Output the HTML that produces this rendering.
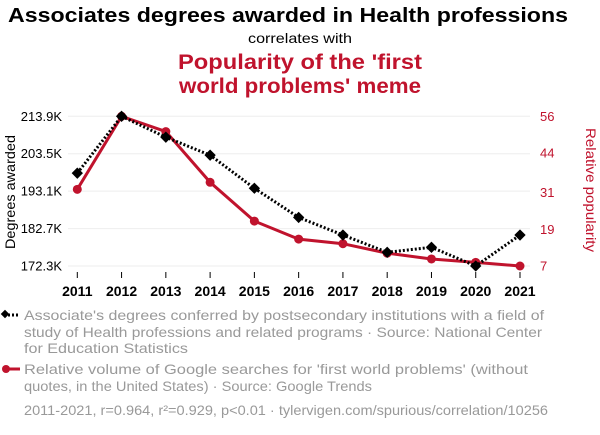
<!DOCTYPE html>
<html><head><meta charset="utf-8"><style>
body{margin:0;background:#fff;width:600px;height:430px;overflow:hidden;font-family:"Liberation Sans",sans-serif}
</style></head><body>
<svg id="c" width="600" height="430" xmlns="http://www.w3.org/2000/svg" font-family="Liberation Sans, sans-serif">
<text x="288" y="22" text-anchor="middle" font-size="20" font-weight="bold" fill="#000" textLength="560" lengthAdjust="spacingAndGlyphs">Associates degrees awarded in Health professions</text>
<text x="300" y="43" text-anchor="middle" font-size="14" fill="#000" textLength="104" lengthAdjust="spacingAndGlyphs">correlates with</text>
<text x="300" y="69" text-anchor="middle" font-size="21" font-weight="bold" fill="#c0132d" textLength="244" lengthAdjust="spacingAndGlyphs">Popularity of the 'first</text>
<text x="300" y="93" text-anchor="middle" font-size="21" font-weight="bold" fill="#c0132d" textLength="242" lengthAdjust="spacingAndGlyphs">world problems' meme</text>
<text transform="translate(15,192) rotate(-90)" text-anchor="middle" font-size="14" fill="#000" textLength="114" lengthAdjust="spacingAndGlyphs">Degrees awarded</text>
<text transform="translate(586,190) rotate(90)" text-anchor="middle" font-size="14" fill="#c0132d" textLength="124" lengthAdjust="spacingAndGlyphs">Relative popularity</text>
<g id="grid"></g><g id="axes"></g><g id="series"></g>
<g>
<line x1="4" y1="315" x2="20" y2="315" stroke="#000" stroke-width="3" stroke-dasharray="2,2"/>
<rect x="2" y="311" width="6" height="6" fill="#000" transform="rotate(45 5 314)"/>
<text x="24" y="320" font-size="14" fill="#999" textLength="520" lengthAdjust="spacingAndGlyphs">Associate's degrees conferred by postsecondary institutions with a field of</text>
<text x="24" y="337" font-size="14" fill="#999" textLength="518" lengthAdjust="spacingAndGlyphs">study of Health professions and related programs · Source: National Center</text>
<text x="24" y="353" font-size="14" fill="#999" textLength="164" lengthAdjust="spacingAndGlyphs">for Education Statistics</text>
</g>
<g>
<line x1="4" y1="369" x2="20" y2="369" stroke="#c0132d" stroke-width="3"/>
<circle cx="6" cy="369" r="4" fill="#c0132d"/>
<text x="24" y="374" font-size="14" fill="#999" textLength="504" lengthAdjust="spacingAndGlyphs">Relative volume of Google searches for 'first world problems' (without</text>
<text x="24" y="391" font-size="14" fill="#999" textLength="348" lengthAdjust="spacingAndGlyphs">quotes, in the United States) · Source: Google Trends</text>
</g>
<text x="24" y="415" font-size="14" fill="#999" textLength="524" lengthAdjust="spacingAndGlyphs">2011-2021, r=0.964, r²=0.929, p&lt;0.01 · tylervigen.com/spurious/correlation/10256</text>
</svg>
<script>
const years=[2011,2012,2013,2014,2015,2016,2017,2018,2019,2020,2021];
const degrees=[198.1,213.9,208.1,203.1,193.9,185.8,180.9,176.1,177.5,172.3,180.9];
const popularity=[32.1,56,51.0,34.4,21.7,15.8,14.3,11.2,9.3,8.2,7];
const leftTicks=[172.3,182.7,193.1,203.5,213.9];
const leftTickLabels=["172.3K","182.7K","193.1K","203.5K","213.9K"];
const rightTicks=[7,19,31,44,56];
const NS="http://www.w3.org/2000/svg";
const x=i=>77.3+(i-0)*(520-77.3)/(years.length-1);
const yL=v=>266-(v-172.3)/(213.9-172.3)*149.7;
const yR=v=>266-(v-7)/(56-7)*149.7;
function mk(tag,attrs,parent,txt){const e=document.createElementNS(NS,tag);for(const k in attrs)e.setAttribute(k,attrs[k]);if(txt!==undefined)e.textContent=txt;document.getElementById(parent).appendChild(e);return e;}
leftTicks.forEach((v,i)=>{
 const g=mk('line',{x1:68,x2:530,y1:yL(v),y2:yL(v),stroke:'#eee','stroke-width':1},'grid');
 
 
 const t=mk('text',{x:62,y:yL(v)+4.5,'text-anchor':'end','font-size':13,fill:'#000'},'axes',leftTickLabels[i]);
 
 
});
rightTicks.forEach(v=>{
 const t=mk('text',{x:540,y:yR(v)+4.5,'font-size':13,fill:'#c0132d'},'axes',String(v));
 
 
});
years.forEach((yr,i)=>{
 const tk=mk('line',{x1:x(i),x2:x(i),y1:272,y2:278,stroke:'#000','stroke-width':1},'axes');
 
 
 const t=mk('text',{x:x(i),y:296,'text-anchor':'middle','font-size':14,'font-weight':'bold',fill:'#000'},'axes',String(yr));
 
 
});
const rp=mk('polyline',{points:popularity.map((v,i)=>x(i)+','+yR(v)).join(' '),fill:'none',stroke:'#c0132d','stroke-width':3},'series');


popularity.forEach((v,i)=>{
 const c=mk('circle',{cx:x(i),cy:yR(v),r:4.5,fill:'#c0132d'},'series');
 
 
});
const bp=mk('polyline',{points:degrees.map((v,i)=>x(i)+','+yL(v)).join(' '),fill:'none',stroke:'#000','stroke-width':3,'stroke-dasharray':'2,2'},'series');


degrees.forEach((v,i)=>{
 const r=mk('rect',{x:x(i)-4,y:yL(v)-4,width:8,height:8,fill:'#000',transform:`rotate(45 ${x(i)} ${yL(v)})`},'series');
 
 
});
</script>
</body></html>
